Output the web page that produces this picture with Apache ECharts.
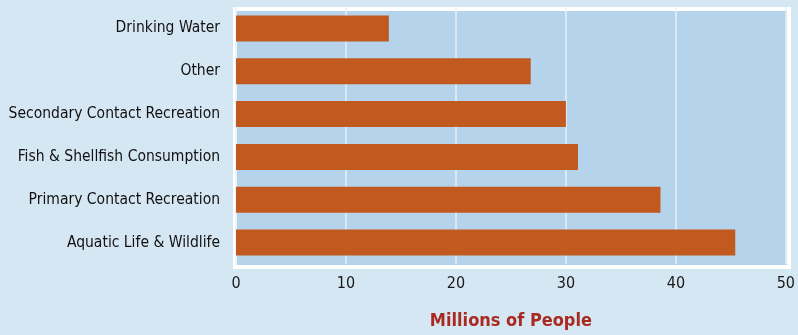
<!DOCTYPE html>
<html><head><meta charset="utf-8">
<script src="https://cdn.jsdelivr.net/npm/echarts@6/dist/echarts.min.js"></script>
<style>html,body{margin:0;padding:0;background:#d6e7f4;}#c{width:798px;height:335px;}</style>
</head><body><div id="c"></div>
<script>
const categories = ["Aquatic Life & Wildlife","Primary Contact Recreation","Fish & Shellfish Consumption","Secondary Contact Recreation","Other","Drinking Water"];
const values = [45.4, 38.6, 31.1, 30.0, 26.8, 13.9];
const xTicks = [0, 10, 20, 30, 40, 50];
const axisTitle = "Millions of People";
const FONT = '"DejaVu Sans Condensed", "Liberation Sans Narrow", sans-serif';

const chart = echarts.init(document.getElementById('c'), null, {renderer:'canvas'});
chart.setOption({
  backgroundColor: '#d6e7f4',
  animation: false,
  graphic: [
    {type:'rect', z:-10, shape:{x:233, y:7, width:558, height:262}, style:{fill:'#ffffff'}},
    {type:'rect', z:-9, shape:{x:237, y:11, width:550, height:254}, style:{fill:'#b5d3ea'}}
  ],
  grid: {left:236, right:10, top:7, bottom:69, containLabel:false},
  xAxis: {
    type:'value', min:xTicks[0], max:xTicks[xTicks.length-1], interval:10,
    axisLine:{show:false}, axisTick:{show:false},
    splitLine:{show:true, lineStyle:{color:'#e8f1f9', width:1.5}},
    axisLabel:{color:'#1a1a1a', fontSize:16, fontFamily:FONT, margin:12},
    name: axisTitle, nameLocation:'middle', nameGap:48,
    nameTextStyle:{color:'#a82a20', fontSize:18, fontWeight:'bold', fontFamily:FONT}
  },
  yAxis: {
    type:'category', data:categories,
    axisLine:{show:false}, axisTick:{show:false},
    axisLabel:{color:'#111', fontSize:15.5, fontFamily:FONT, margin:16}
  },
  series: [{
    type:'bar', data:values, barWidth:26,
    itemStyle:{color:'#c25a20'}, z:3
  }]
});
</script></body></html>
